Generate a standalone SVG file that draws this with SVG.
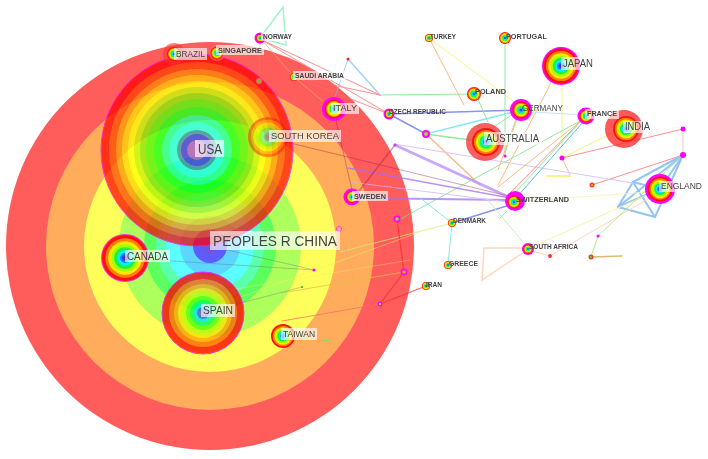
<svg xmlns="http://www.w3.org/2000/svg" xmlns:xlink="http://www.w3.org/1999/xlink" width="708" height="459" viewBox="0 0 708 459">
<style>
text{font-family:"Liberation Sans",Arial,sans-serif;fill:#444}
.s{font-weight:bold}
.lb{fill:#fff;opacity:.65}
#edges{opacity:.75}
#edges line,#edges polyline{fill:none;stroke-linecap:round}
.g{stroke:#70e080;stroke-width:1}
.mt{stroke:#80f0b0;stroke-width:1.5}
.o{stroke:#ffa060;stroke-width:1}
.y{stroke:#f0f060;stroke-width:1}
.r{stroke:#ff6a6a;stroke-width:1}
.rr{stroke:#ff2a2a;stroke-width:1.2}
.b{stroke:#6070e8;stroke-width:1.5}
.lbl{stroke:#80c0ff;stroke-width:1.5}
.eb{stroke:#70b0f0;stroke-width:2}
.p{stroke:#a070f0;stroke-width:1.5}
.lp{stroke:#d0b0ff;stroke-width:1}
.c{stroke:#60e0f0;stroke-width:1.5}
.pk{stroke:#ffc8a8;stroke-width:1.5}
.dr{stroke:#b02050;stroke-width:1;opacity:.6}
.gr{stroke:#707070;stroke-width:1;opacity:.5}
.mg{fill:#ff00ff}
</style>
<defs>
<g id="rb">
<circle r="1" fill="#ff1010"/>
<circle r=".86" fill="#ff8000"/>
<circle r=".73" fill="#ffe800"/>
<circle r=".6" fill="#a0ff00"/>
<circle r=".47" fill="#20f040"/>
<circle r=".34" fill="#00f0ff"/>
<circle r=".22" fill="#2080ff"/>
<circle r=".12" fill="#4030e0"/>
</g>
</defs>
<rect width="708" height="459" fill="#fff"/>

<g id="china" opacity="0.75">
<circle cx="210" cy="246" r="204" fill="#ff2626"/>
<circle cx="210" cy="246" r="164" fill="#ff9226"/>
<circle cx="210" cy="246" r="126" fill="#ffff26"/>
<circle cx="210" cy="246" r="91" fill="#92ff26"/>
<circle cx="210" cy="246" r="66" fill="#26ff26"/>
<circle cx="210" cy="246" r="54" fill="#26ff92"/>
<circle cx="210" cy="246" r="44" fill="#26ffff"/>
<circle cx="210" cy="246" r="30" fill="#26c8ff"/>
<circle cx="210" cy="246" r="17" fill="#2626ff"/>
<circle cx="210" cy="246" r="8" fill="#4020d0"/>
</g>

<g id="edges">
<polyline class="mt" points="260,38 283,7 286,45 260,38"/>
<line class="lbl" x1="348" y1="59" x2="380" y2="95"/>
<line class="lbl" x1="348" y1="59" x2="334" y2="100" style="stroke-width:1"/>
<line class="g" x1="380" y1="95" x2="474" y2="94"/>
<line class="r" x1="262" y1="40" x2="380" y2="95"/>
<line class="r" x1="295" y1="77" x2="380" y2="95"/>
<line class="r" x1="295" y1="77" x2="389" y2="114"/>
<line class="r" x1="262" y1="40" x2="389" y2="114"/>
<polyline class="o" points="262,40 295,78 330,107"/>
<line class="r" x1="260" y1="43" x2="259" y2="81"/>
<line class="b" x1="389" y1="114" x2="521" y2="110"/>
<line class="b" x1="389" y1="114" x2="426" y2="134"/>
<line class="c" x1="426" y1="134" x2="521" y2="110"/>
<line class="g" x1="426" y1="134" x2="485" y2="142" style="stroke-width:1.5"/>
<line class="o" x1="426" y1="134" x2="480" y2="185" style="stroke-width:1.5"/>
<line class="o" x1="429" y1="38" x2="464" y2="105"/>
<line class="y" x1="429" y1="38" x2="512" y2="100"/>
<line class="g" x1="505" y1="40" x2="505" y2="156"/>
<line class="o" x1="551" y1="83" x2="498" y2="185"/>
<line class="y" x1="562" y1="82" x2="562" y2="158"/>
<line class="o" x1="562" y1="158" x2="570" y2="175"/>
<line class="y" x1="547" y1="176" x2="570" y2="176" style="stroke-width:2"/>
<line class="y" x1="562" y1="158" x2="612" y2="133"/>
<line class="r" x1="562" y1="158" x2="683" y2="129"/>
<line class="r" x1="592" y1="185" x2="683" y2="155"/>
<line class="r" x1="683" y1="129" x2="683" y2="155" style="opacity:.6"/>
<line class="eb" x1="683" y1="155" x2="633" y2="182"/>
<line class="eb" x1="683" y1="155" x2="618" y2="207"/>
<line class="eb" x1="683" y1="155" x2="655" y2="217"/>
<line class="eb" x1="683" y1="155" x2="660" y2="189"/>
<line class="eb" x1="633" y1="182" x2="618" y2="207"/>
<line class="eb" x1="633" y1="182" x2="655" y2="217"/>
<line class="eb" x1="618" y1="207" x2="655" y2="217"/>
<line class="eb" x1="633" y1="182" x2="660" y2="189"/>
<line class="eb" x1="618" y1="207" x2="660" y2="189"/>
<line class="lp" x1="394" y1="144" x2="633" y2="183"/>
<line class="lbl" x1="532" y1="112" x2="585" y2="115" style="stroke-width:1;opacity:.6"/>
<line class="o" x1="582" y1="120" x2="498" y2="187"/>
<line class="r" x1="582" y1="120" x2="510" y2="193"/>
<line class="g" x1="582" y1="120" x2="512" y2="196"/>
<line class="b" x1="584" y1="121" x2="516" y2="198" style="stroke-width:1;stroke:#4090e0"/>
<line class="g" x1="580" y1="121" x2="395" y2="222"/>
<line class="g" x1="477" y1="97" x2="488" y2="122"/>
<line class="g" x1="519" y1="113" x2="505" y2="153"/>
<line class="o" x1="518" y1="114" x2="498" y2="170"/>
<line class="g" x1="516" y1="112" x2="492" y2="128"/>
<line class="p" x1="395" y1="145" x2="513" y2="199" style="stroke-width:3;opacity:.8"/>
<line class="p" x1="358" y1="198" x2="508" y2="200" style="stroke-width:2"/>
<line class="p" x1="348" y1="168" x2="510" y2="198"/>
<line class="lp" x1="350" y1="182" x2="508" y2="202"/>
<line class="dr" x1="278" y1="140" x2="508" y2="196"/>
<line class="dr" x1="395" y1="145" x2="356" y2="195" style="stroke-width:1.5"/>
<line class="dr" x1="334" y1="112" x2="352" y2="190"/>
<line class="b" x1="513" y1="204" x2="452" y2="223"/>
<line class="c" x1="452" y1="223" x2="448" y2="265" style="stroke-width:1"/>
<line class="c" x1="420" y1="198" x2="452" y2="223" style="stroke-width:1"/>
<line class="y" x1="452" y1="223" x2="340" y2="252" style="stroke:#c8f080"/>
<line class="g" x1="486" y1="198" x2="527" y2="247" style="stroke:#b0f0a0"/>
<polyline class="pk" points="527,248 484,248 482,280 527,250"/>
<line class="pk" x1="528" y1="250" x2="550" y2="256" style="stroke-width:1"/>
<line class="y" x1="530" y1="248" x2="660" y2="189" style="stroke:#f0f090"/>
<line class="pk" x1="550" y1="256" x2="660" y2="192" style="stroke-width:1"/>
<line class="y" x1="523" y1="201" x2="650" y2="192" style="stroke:#f0f0a8"/>
<line class="g" x1="683" y1="155" x2="598" y2="236" style="stroke:#a0e060"/>
<line class="g" x1="598" y1="236" x2="591" y2="257" style="stroke:#a0e060"/>
<line class="o" x1="591" y1="257" x2="622" y2="256" style="stroke:#d0a040;stroke-width:1.5"/>
<line class="g" x1="507" y1="211" x2="500" y2="218"/>
<line class="rr" x1="397" y1="219" x2="404" y2="272"/>
<line class="rr" x1="404" y1="272" x2="380" y2="304"/>
<line class="rr" x1="380" y1="304" x2="426" y2="286"/>
<line class="r" x1="380" y1="304" x2="282" y2="321"/>
<line class="y" x1="404" y1="272" x2="282" y2="293" style="stroke:#e0c040"/>
<line class="o" x1="339" y1="229" x2="354" y2="278"/>
<line class="gr" x1="125" y1="258" x2="314" y2="270"/>
<line class="gr" x1="210" y1="246" x2="314" y2="270"/>
<line class="gr" x1="203" y1="313" x2="302" y2="287"/>
<line class="g" x1="283" y1="336" x2="330" y2="341"/>
<line class="y" x1="205" y1="310" x2="420" y2="232" style="opacity:.6"/>
<line class="y" x1="230" y1="290" x2="410" y2="260" style="opacity:.5"/>
<line class="gr" x1="197" y1="150" x2="160" y2="230" style="opacity:.3"/>
</g>

<g id="usa" opacity="0.72">
<circle cx="197" cy="150" r="96" fill="#ff0000" stroke="#ff00ff" stroke-width="1"/>
<circle cx="197" cy="150" r="88" fill="#ff4000"/>
<circle cx="197" cy="150" r="81" fill="#ff8c00"/>
<circle cx="197" cy="150" r="75" fill="#ffd000"/>
<circle cx="197" cy="150" r="69" fill="#ffff00"/>
<circle cx="197" cy="150" r="63" fill="#c0f000"/>
<circle cx="197" cy="150" r="57" fill="#80e000"/>
<circle cx="197" cy="150" r="51" fill="#40f000"/>
<circle cx="197" cy="150" r="43" fill="#00ff10"/>
<circle cx="197" cy="150" r="35" fill="#00ffa0"/>
<circle cx="197" cy="150" r="28" fill="#00ffff"/>
<circle cx="197" cy="150" r="20" fill="#2080c0"/>
<circle cx="197" cy="150" r="16" fill="#2020ff"/>
<circle cx="197" cy="150" r="10" fill="#a040e0"/>
</g>

<g id="spain" opacity="0.78">
<circle cx="203" cy="313" r="41" fill="#ff0000" stroke="#ff00ff" stroke-width="1"/>
<circle cx="203" cy="313" r="34" fill="#ff6000"/>
<circle cx="203" cy="313" r="29" fill="#ffa000"/>
<circle cx="203" cy="313" r="25" fill="#ffe000"/>
<circle cx="203" cy="313" r="21" fill="#c0ff00"/>
<circle cx="203" cy="313" r="17" fill="#60ff00"/>
<circle cx="203" cy="313" r="13" fill="#00ff60"/>
<circle cx="203" cy="313" r="9" fill="#00e0ff"/>
<circle cx="203" cy="313" r="6" fill="#2060ff"/>
<circle cx="203" cy="313" r="3" fill="#8040c0"/>
</g>

<g id="canada"><circle cx="125" cy="258" r="24" fill="#ff00ff" opacity=".8"/><use xlink:href="#rb" href="#rb" transform="translate(125 258) scale(23)"/></g>
<g id="taiwan"><use xlink:href="#rb" href="#rb" transform="translate(283 336) scale(12)"/></g>
<g id="southkorea" opacity="0.45"><use xlink:href="#rb" href="#rb" transform="translate(268 137) scale(20)"/></g>
<g id="brazil"><circle cx="174" cy="54" r="11" fill="#ff3030" opacity=".6"/><use xlink:href="#rb" href="#rb" transform="translate(174 54) scale(7)"/></g>
<g id="singapore"><circle cx="217" cy="53" r="8" fill="#ff7070" opacity=".6"/><use xlink:href="#rb" href="#rb" transform="translate(217 53) scale(6.5)"/></g>
<g id="norway"><circle class="mg" cx="260" cy="38" r="5.5"/><use xlink:href="#rb" href="#rb" transform="translate(260 38) scale(3.8)"/></g>
<g id="saudiarabia"><use xlink:href="#rb" href="#rb" transform="translate(294 77) scale(4)"/></g>
<g id="n259"><circle cx="259" cy="81" r="3" fill="#ff6060"/><circle cx="259" cy="81" r="1.6" fill="#60d020"/></g>
<g id="italy"><circle class="mg" cx="334" cy="109" r="12"/><use xlink:href="#rb" href="#rb" transform="translate(334 109) scale(9.5)"/></g>
<g id="sweden"><circle class="mg" cx="352" cy="197" r="8.5"/><use xlink:href="#rb" href="#rb" transform="translate(352 197) scale(6)"/></g>
<g id="czech"><circle class="mg" cx="389" cy="114" r="5.5"/><use xlink:href="#rb" href="#rb" transform="translate(389 114) scale(4)"/></g>
<g id="turkey"><use xlink:href="#rb" href="#rb" transform="translate(429 38) scale(4)"/></g>
<g id="portugal"><use xlink:href="#rb" href="#rb" transform="translate(505 38) scale(6)"/></g>
<g id="japan"><circle class="mg" cx="561" cy="66" r="19"/><use xlink:href="#rb" href="#rb" transform="translate(561 66) scale(17.5)"/></g>
<g id="poland"><use xlink:href="#rb" href="#rb" transform="translate(474 94) scale(7)"/></g>
<g id="germany"><circle class="mg" cx="521" cy="110" r="11"/><use xlink:href="#rb" href="#rb" transform="translate(521 110) scale(8.5)"/></g>
<g id="france"><circle class="mg" cx="586" cy="116" r="8.5"/><use xlink:href="#rb" href="#rb" transform="translate(586 116) scale(6.5)"/></g>
<g id="india"><circle cx="624" cy="129" r="19" fill="#ff3030" opacity=".8"/><use xlink:href="#rb" href="#rb" transform="translate(626 129) scale(13)"/></g>
<g id="australia"><circle cx="485" cy="142" r="19" fill="#f03a3a" opacity=".8"/><use xlink:href="#rb" href="#rb" transform="translate(486 142) scale(14)"/></g>
<g id="england"><circle class="mg" cx="660" cy="189" r="15"/><use xlink:href="#rb" href="#rb" transform="translate(660 189) scale(12.5)"/></g>
<g id="switzerland"><circle class="mg" cx="515" cy="201" r="10"/><use xlink:href="#rb" href="#rb" transform="translate(514 202) scale(6.5)"/></g>
<g id="denmark"><use xlink:href="#rb" href="#rb" transform="translate(452 223) scale(4)"/></g>
<g id="greece"><use xlink:href="#rb" href="#rb" transform="translate(448 265) scale(4)"/></g>
<g id="southafrica"><circle class="mg" cx="528" cy="249" r="6"/><use xlink:href="#rb" href="#rb" transform="translate(528 249) scale(4.5)"/></g>
<g id="iran"><use xlink:href="#rb" href="#rb" transform="translate(426 286) scale(4)"/></g>
<g id="n426"><circle class="mg" cx="426" cy="134" r="4"/><circle cx="426" cy="134" r="2" fill="#90e020"/></g>
<g id="n397"><circle class="mg" cx="397" cy="219" r="3.5"/><circle cx="397" cy="219" r="1.8" fill="#90e020"/></g>
<g id="n404"><circle class="mg" cx="404" cy="272" r="3.5"/><circle cx="404" cy="272" r="1.8" fill="#ffb000"/></g>
<g id="n380"><circle class="mg" cx="380" cy="304" r="2.5"/><circle cx="380" cy="304" r="1.3" fill="#b0e020"/></g>
<g id="n339"><circle cx="339" cy="229" r="2.5" fill="#ffa0d0" stroke="#ff40c0" stroke-width="1"/></g>
<g id="n683a"><circle class="mg" cx="683" cy="129" r="2.5"/></g>
<g id="n683b"><circle class="mg" cx="683" cy="155" r="3"/></g>
<g id="n562"><circle class="mg" cx="562" cy="158" r="2.5"/></g>
<g id="n592"><circle cx="592" cy="185" r="2.5" fill="#ff3030"/><circle cx="592" cy="185" r="1.2" fill="#ffb000"/></g>
<g id="n550"><circle cx="550" cy="256" r="2" fill="#ff3030"/></g>
<g id="n591"><circle cx="591" cy="257" r="2.5" fill="#ff3030"/><circle cx="591" cy="257" r="1.2" fill="#60d020"/></g>
<g id="n598"><circle class="mg" cx="598" cy="236" r="1.5"/></g>
<g id="n505"><circle class="mg" cx="505" cy="156" r="1.5"/></g>
<g id="n395"><circle cx="395" cy="145" r="1.5" fill="#c040ff"/></g>
<g id="n314"><circle class="mg" cx="314" cy="270" r="1.5"/></g>
<g id="n302"><circle cx="302" cy="287" r="1" fill="#20c040"/></g>
<g id="n348"><circle cx="348" cy="59" r="1.5" fill="#ff2020"/></g>

<g id="labels">
<rect class="lb" x="195" y="140" width="29" height="17"/><text x="198" y="154" font-size="15" textLength="24" lengthAdjust="spacingAndGlyphs">USA</text>
<rect class="lb" x="210" y="231" width="130" height="19"/><text x="213" y="246" font-size="15" textLength="124" lengthAdjust="spacingAndGlyphs">PEOPLES R CHINA</text>
<rect class="lb" x="125" y="250" width="45" height="12"/><text x="127" y="259.5" font-size="10" textLength="41" lengthAdjust="spacingAndGlyphs">CANADA</text>
<rect class="lb" x="201" y="304" width="34" height="13"/><text x="203" y="314" font-size="11" textLength="30" lengthAdjust="spacingAndGlyphs">SPAIN</text>
<rect class="lb" x="281" y="328" width="36" height="12"/><text x="283" y="337" font-size="9.5" textLength="32" lengthAdjust="spacingAndGlyphs">TAIWAN</text>
<rect class="lb" x="269" y="130" width="72" height="12"/><text x="271" y="139" font-size="9.5" textLength="68" lengthAdjust="spacingAndGlyphs">SOUTH KOREA</text>
<rect class="lb" x="174" y="48" width="33" height="12"/><text x="176" y="57" font-size="9.5" textLength="29" lengthAdjust="spacingAndGlyphs">BRAZIL</text>
<rect class="lb" x="216" y="45" width="48" height="10"/><text class="s" x="218" y="53" font-size="8" textLength="44" lengthAdjust="spacingAndGlyphs">SINGAPORE</text>
<rect class="lb" x="261" y="32" width="33" height="9"/><text class="s" x="263" y="39" font-size="7" textLength="29" lengthAdjust="spacingAndGlyphs">NORWAY</text>
<rect class="lb" x="293" y="71" width="53" height="9"/><text class="s" x="295" y="78" font-size="7" textLength="49" lengthAdjust="spacingAndGlyphs">SAUDI ARABIA</text>
<rect class="lb" x="331" y="103" width="28" height="11"/><text x="333" y="111" font-size="9" textLength="24" lengthAdjust="spacingAndGlyphs">ITALY</text>
<rect class="lb" x="352" y="191" width="36" height="10"/><text class="s" x="354" y="199" font-size="8" textLength="32" lengthAdjust="spacingAndGlyphs">SWEDEN</text>
<text class="s" x="389" y="114" font-size="7" textLength="57" lengthAdjust="spacingAndGlyphs">CZECH REPUBLIC</text>
<text class="s" x="430" y="39" font-size="7" textLength="26" lengthAdjust="spacingAndGlyphs">TURKEY</text>
<text class="s" x="506" y="39" font-size="7.5" textLength="41" lengthAdjust="spacingAndGlyphs">PORTUGAL</text>
<rect class="lb" x="561" y="57" width="34" height="13"/><text x="563" y="67" font-size="11" textLength="30" lengthAdjust="spacingAndGlyphs">JAPAN</text>
<text class="s" x="475" y="94" font-size="7.5" textLength="31" lengthAdjust="spacingAndGlyphs">POLAND</text>
<text x="522" y="111" font-size="9" textLength="41" lengthAdjust="spacingAndGlyphs">GERMANY</text>
<rect class="lb" x="585" y="109" width="34" height="10"/><text class="s" x="587" y="116" font-size="7.5" textLength="30" lengthAdjust="spacingAndGlyphs">FRANCE</text>
<rect class="lb" x="623" y="121" width="29" height="12"/><text x="625" y="130" font-size="10" textLength="25" lengthAdjust="spacingAndGlyphs">INDIA</text>
<rect class="lb" x="484" y="132" width="57" height="13"/><text x="486" y="142" font-size="10.5" textLength="53" lengthAdjust="spacingAndGlyphs">AUSTRALIA</text>
<rect class="lb" x="659" y="181" width="45" height="11"/><text x="661" y="189" font-size="9.5" textLength="41" lengthAdjust="spacingAndGlyphs">ENGLAND</text>
<text class="s" x="516" y="202" font-size="8" textLength="53" lengthAdjust="spacingAndGlyphs">SWITZERLAND</text>
<text class="s" x="453" y="223" font-size="7" textLength="33" lengthAdjust="spacingAndGlyphs">DENMARK</text>
<text class="s" x="449" y="266" font-size="7.5" textLength="29" lengthAdjust="spacingAndGlyphs">GREECE</text>
<text class="s" x="529" y="249" font-size="7" textLength="49" lengthAdjust="spacingAndGlyphs">SOUTH AFRICA</text>
<text class="s" x="426" y="287" font-size="7" textLength="16" lengthAdjust="spacingAndGlyphs">IRAN</text>
</g>
</svg>
